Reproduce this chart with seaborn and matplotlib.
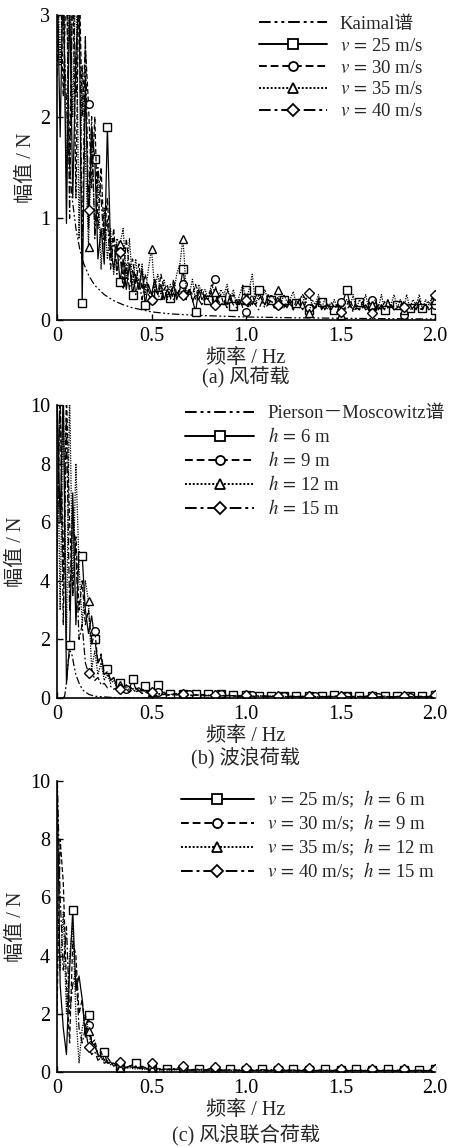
import numpy as np
import matplotlib
matplotlib.use("Agg")
import matplotlib.pyplot as plt
import seaborn as sns

# ---------------- data ----------------
x_ticks = [0, 0.5, 1.0, 1.5, 2.0]
x_tick_labels = ["0", "0.5", "1.0", "1.5", "2.0"]
y_ticks_a = [0, 1, 2, 3]
y_ticks_bc = [0, 2, 4, 6, 8, 10]

# (a) wind load
freq_a = np.arange(121) / 60
wind_v25 = [3.5, 1.8, 3.5, 0.95, 3.2, 1.2, 2.6, 3.2, 0.17, 2.4,
            0.9, 1.9, 1.58, 0.6, 0.9, 0.55, 1.9, 0.7, 0.5, 0.75,
            0.37, 0.6, 0.3, 0.55, 0.25, 0.45, 0.3, 0.5, 0.15, 0.35,
            0.25, 0.4, 0.25, 0.35, 0.2, 0.3, 0.22, 0.35, 0.2, 0.3,
            0.5, 0.25, 0.3, 0.2, 0.08, 0.3, 0.2, 0.25, 0.2, 0.28,
            0.15, 0.25, 0.2, 0.22, 0.15, 0.25, 0.14, 0.2, 0.15, 0.25,
            0.3, 0.2, 0.15, 0.22, 0.3, 0.2, 0.15, 0.25, 0.2, 0.15,
            0.22, 0.18, 0.2, 0.12, 0.2, 0.15, 0.17, 0.12, 0.18, 0.1,
            0.1, 0.15, 0.12, 0.2, 0.18, 0.1, 0.15, 0.12, 0.1, 0.15,
            0.12, 0.2, 0.3, 0.15, 0.1, 0.18, 0.18, 0.12, 0.15, 0.1,
            0.14, 0.18, 0.1, 0.15, 0.1, 0.2, 0.12, 0.15, 0.15, 0.1,
            0.18, 0.12, 0.12, 0.15, 0.1, 0.2, 0.12, 0.15, 0.1, 0.12,
            0.1]
wind_v30 = [3.5, 3.5, 2.2, 3.5, 1.5, 3.5, 1.2, 3.5, 2.0, 2.7,
            2.12, 1.3, 2.0, 0.9, 1.5, 0.8, 1.2, 0.6, 0.9, 0.5,
            0.67, 0.4, 0.8, 0.5, 0.6, 0.35, 0.55, 0.3, 0.45, 0.3,
            0.2, 0.4, 0.25, 0.45, 0.3, 0.35, 0.2, 0.4, 0.25, 0.3,
            0.35, 0.2, 0.3, 0.25, 0.35, 0.2, 0.3, 0.2, 0.25, 0.3,
            0.4, 0.2, 0.25, 0.15, 0.3, 0.2, 0.25, 0.15, 0.2, 0.12,
            0.08, 0.2, 0.25, 0.15, 0.2, 0.25, 0.15, 0.2, 0.18, 0.12,
            0.15, 0.2, 0.12, 0.18, 0.15, 0.1, 0.2, 0.15, 0.1, 0.18,
            0.12, 0.15, 0.1, 0.2, 0.12, 0.15, 0.1, 0.18, 0.12, 0.15,
            0.18, 0.1, 0.15, 0.2, 0.12, 0.15, 0.1, 0.18, 0.12, 0.15,
            0.2, 0.12, 0.15, 0.1, 0.18, 0.12, 0.15, 0.1, 0.12, 0.15,
            0.05, 0.12, 0.15, 0.1, 0.18, 0.12, 0.1, 0.15, 0.12, 0.18,
            0.15]
wind_v35 = [3.5, 2.5, 3.5, 1.4, 3.5, 2.0, 3.5, 0.8, 2.5, 1.6,
            0.72, 1.8, 0.9, 1.4, 0.5, 1.1, 0.6, 0.9, 0.45, 0.8,
            0.75, 0.9, 0.4, 0.8, 0.35, 0.6, 0.3, 0.55, 0.25, 0.5,
            0.7, 0.3, 0.45, 0.25, 0.4, 0.2, 0.35, 0.25, 0.45, 0.55,
            0.8, 0.3, 0.25, 0.4, 0.2, 0.35, 0.25, 0.3, 0.2, 0.35,
            0.28, 0.2, 0.3, 0.25, 0.35, 0.2, 0.3, 0.15, 0.25, 0.35,
            0.2, 0.3, 0.45, 0.15, 0.25, 0.2, 0.3, 0.18, 0.25, 0.2,
            0.3, 0.15, 0.25, 0.18, 0.2, 0.28, 0.15, 0.2, 0.25, 0.1,
            0.07, 0.2, 0.15, 0.25, 0.12, 0.2, 0.15, 0.1, 0.2, 0.12,
            0.05, 0.15, 0.2, 0.12, 0.25, 0.1, 0.2, 0.15, 0.25, 0.1,
            0.15, 0.2, 0.12, 0.25, 0.1, 0.2, 0.15, 0.25, 0.12, 0.2,
            0.1, 0.25, 0.12, 0.2, 0.15, 0.25, 0.1, 0.2, 0.15, 0.22,
            0.2]
wind_v40 = [2.4, 3.5, 2.9, 3.5, 1.0, 3.5, 2.2, 3.5, 0.6, 2.8,
            1.08, 2.0, 0.8, 1.5, 1.2, 0.7, 1.0, 0.5, 0.8, 0.45,
            0.67, 0.3, 0.55, 0.3, 0.5, 0.25, 0.4, 0.2, 0.35, 0.25,
            0.2, 0.3, 0.25, 0.2, 0.3, 0.22, 0.3, 0.2, 0.25, 0.3,
            0.25, 0.2, 0.3, 0.18, 0.25, 0.2, 0.15, 0.22, 0.2, 0.15,
            0.15, 0.2, 0.15, 0.18, 0.12, 0.2, 0.15, 0.12, 0.18, 0.15,
            0.2, 0.12, 0.18, 0.15, 0.1, 0.18, 0.12, 0.15, 0.2, 0.12,
            0.15, 0.1, 0.15, 0.12, 0.18, 0.1, 0.15, 0.2, 0.25, 0.2,
            0.27, 0.15, 0.12, 0.18, 0.1, 0.15, 0.12, 0.1, 0.15, 0.1,
            0.08, 0.12, 0.1, 0.15, 0.08, 0.12, 0.1, 0.15, 0.1, 0.12,
            0.07, 0.12, 0.1, 0.15, 0.1, 0.12, 0.15, 0.1, 0.12, 0.15,
            0.13, 0.15, 0.1, 0.12, 0.15, 0.1, 0.12, 0.15, 0.18, 0.2,
            0.25]
kaimal_freq = [0.02, 0.04, 0.06, 0.08, 0.1, 0.12, 0.14, 0.17, 0.2, 0.25, 0.3,
               0.35, 0.4, 0.5, 0.6, 0.75, 1.0, 1.25, 1.5, 1.75, 2.0]
kaimal_amp = [3.5, 2.6, 1.7, 1.2, 0.9, 0.7, 0.56, 0.43, 0.34, 0.25, 0.19,
              0.15, 0.12, 0.08, 0.06, 0.045, 0.03, 0.022, 0.017, 0.013, 0.01]

# (b) wave load
freq_b = np.concatenate([np.arange(0, 36) / 60, np.arange(18, 61) / 30])
wave_h6 = [10.5, 6.0, 10.5, 0.5, 1.8, 7.0, 2.5, 5.0, 4.85, 3.0,
           2.2, 2.8, 2.0, 1.2, 1.4, 0.9, 1.0, 0.6, 0.7, 0.4,
           0.5, 0.35, 0.45, 0.3, 0.65, 0.3, 0.35, 0.25, 0.4, 0.25,
           0.3, 0.2, 0.45, 0.15, 0.2, 0.12,
           0.15, 0.1, 0.15, 0.12, 0.15, 0.1, 0.12, 0.1, 0.15, 0.08,
           0.1, 0.08, 0.1, 0.06, 0.08, 0.06, 0.08, 0.06, 0.07, 0.05,
           0.08, 0.05, 0.07, 0.05, 0.06, 0.05, 0.1, 0.06, 0.07, 0.05,
           0.08, 0.05, 0.06, 0.05, 0.07, 0.04, 0.06, 0.05, 0.06, 0.04,
           0.06, 0.05, 0.1]
wave_h9 = [5.0, 10.5, 4.0, 10.5, 6.0, 3.5, 5.5, 3.0, 4.0, 2.5,
           3.0, 1.8, 2.3, 1.2, 1.5, 0.8, 0.9, 0.6, 0.7, 0.4,
           0.5, 0.35, 0.3, 0.4, 0.3, 0.35, 0.2, 0.3, 0.25, 0.2,
           0.25, 0.15, 0.2, 0.12, 0.18, 0.1,
           0.12, 0.15, 0.25, 0.15, 0.1, 0.12, 0.08, 0.1, 0.12, 0.07,
           0.08, 0.06, 0.08, 0.1, 0.06, 0.07, 0.05, 0.06, 0.08, 0.05,
           0.06, 0.04, 0.05, 0.06, 0.04, 0.05, 0.06, 0.05, 0.07, 0.04,
           0.05, 0.06, 0.04, 0.05, 0.06, 0.04, 0.05, 0.06, 0.04, 0.05,
           0.06, 0.04, 0.05]
wave_h12 = [10.5, 3.0, 10.5, 2.0, 10.5, 3.5, 8.0, 4.5, 2.5, 4.0,
            3.3, 1.0, 1.6, 0.8, 1.2, 0.6, 0.8, 0.5, 0.6, 0.35,
            0.45, 0.3, 0.4, 0.25, 0.35, 0.2, 0.3, 0.2, 0.25, 0.15,
            0.2, 0.15, 0.18, 0.12, 0.15, 0.1,
            0.12, 0.15, 0.12, 0.1, 0.12, 0.08, 0.1, 0.12, 0.08, 0.1,
            0.07, 0.08, 0.1, 0.06, 0.08, 0.05, 0.07, 0.08, 0.05, 0.06,
            0.04, 0.06, 0.05, 0.04, 0.06, 0.04, 0.05, 0.08, 0.05, 0.04,
            0.06, 0.04, 0.05, 0.04, 0.06, 0.04, 0.05, 0.06, 0.04, 0.05,
            0.04, 0.05, 0.06]
wave_h15 = [5.0, 10.5, 2.5, 9.5, 3.0, 6.5, 4.9, 2.0, 2.5, 1.2,
            0.85, 1.0, 0.6, 0.7, 0.45, 0.5, 0.35, 0.4, 0.3, 0.35,
            0.3, 0.25, 0.3, 0.2, 0.3, 0.2, 0.25, 0.15, 0.2, 0.15,
            0.2, 0.12, 0.15, 0.1, 0.12, 0.1,
            0.1, 0.12, 0.15, 0.08, 0.1, 0.07, 0.08, 0.1, 0.07, 0.08,
            0.06, 0.07, 0.1, 0.06, 0.05, 0.06, 0.05, 0.08, 0.05, 0.04,
            0.05, 0.04, 0.08, 0.04, 0.05, 0.04, 0.05, 0.08, 0.04, 0.05,
            0.04, 0.05, 0.08, 0.04, 0.05, 0.04, 0.05, 0.08, 0.04, 0.05,
            0.04, 0.05, 0.1]
pm_freq = [0.03, 0.04, 0.05, 0.06, 0.07, 0.08, 0.09, 0.1, 0.12, 0.14,
           0.17, 0.2, 0.3, 0.5, 1.0, 2.0]
pm_amp = [0.0, 0.05, 0.5, 1.3, 1.6, 1.45, 1.1, 0.8, 0.45, 0.25,
          0.12, 0.06, 0.015, 0.003, 0.0, 0.0]

# (c) combined wind + wave load
freq_c = np.concatenate([np.arange(0, 35) / 60, np.arange(14, 49) / 24])
comb_1 = [10.5, 3.0, 1.5, 0.6, 3.5, 5.55, 2.8, 3.3, 2.5, 1.2,
          1.95, 1.0, 0.9, 0.6, 0.5, 0.7, 0.3, 0.35, 0.2, 0.25,
          0.15, 0.2, 0.15, 0.2, 0.25, 0.3, 0.15, 0.12, 0.15, 0.1,
          0.12, 0.1, 0.12, 0.08, 0.1,
          0.12, 0.08, 0.1, 0.06, 0.1, 0.06, 0.08, 0.05, 0.1, 0.05,
          0.07, 0.05, 0.1, 0.05, 0.07, 0.05, 0.1, 0.05, 0.06, 0.05,
          0.09, 0.04, 0.06, 0.04, 0.09, 0.04, 0.06, 0.04, 0.09, 0.04,
          0.06, 0.04, 0.08, 0.04, 0.1]
comb_2 = [2.0, 8.0, 6.5, 3.0, 1.0, 4.5, 4.0, 2.0, 2.5, 1.3,
          1.6, 1.0, 1.1, 0.6, 0.7, 0.4, 0.5, 0.35, 0.3, 0.25,
          0.2, 0.25, 0.15, 0.2, 0.15, 0.2, 0.12, 0.15, 0.1, 0.12,
          0.15, 0.1, 0.12, 0.08, 0.1,
          0.08, 0.1, 0.12, 0.06, 0.08, 0.05, 0.1, 0.05, 0.07, 0.05,
          0.08, 0.04, 0.06, 0.04, 0.08, 0.04, 0.05, 0.04, 0.07, 0.04,
          0.05, 0.04, 0.06, 0.04, 0.05, 0.04, 0.06, 0.04, 0.05, 0.04,
          0.06, 0.04, 0.05, 0.04, 0.06]
comb_3 = [6.0, 3.5, 5.5, 2.0, 4.0, 5.0, 2.0, 0.3, 1.5, 2.0,
          1.4, 0.8, 1.0, 0.5, 0.6, 0.35, 0.4, 0.25, 0.3, 0.2,
          0.15, 0.2, 0.12, 0.15, 0.12, 0.1, 0.12, 0.08, 0.1, 0.08,
          0.1, 0.08, 0.07, 0.06, 0.08,
          0.06, 0.07, 0.1, 0.05, 0.06, 0.04, 0.08, 0.04, 0.05, 0.04,
          0.07, 0.04, 0.05, 0.03, 0.06, 0.04, 0.05, 0.03, 0.06, 0.04,
          0.05, 0.03, 0.05, 0.04, 0.05, 0.03, 0.05, 0.04, 0.05, 0.03,
          0.05, 0.04, 0.05, 0.03, 0.05]
comb_4 = [10.5, 6.0, 3.5, 5.0, 2.0, 3.0, 3.5, 1.5, 1.0, 1.5,
          0.85, 0.6, 0.7, 0.4, 0.5, 0.3, 0.35, 0.25, 0.3, 0.25,
          0.35, 0.2, 0.15, 0.2, 0.15, 0.2, 0.15, 0.2, 0.15, 0.2,
          0.3, 0.15, 0.1, 0.12, 0.1,
          0.1, 0.12, 0.2, 0.08, 0.1, 0.08, 0.18, 0.06, 0.08, 0.06,
          0.15, 0.06, 0.08, 0.06, 0.15, 0.06, 0.07, 0.05, 0.15, 0.05,
          0.07, 0.05, 0.12, 0.05, 0.06, 0.05, 0.12, 0.05, 0.06, 0.05,
          0.12, 0.05, 0.06, 0.05, 0.12]

labels_a = ["Kaimal谱", r"$v\,=\,$25 m/s", r"$v\,=\,$30 m/s", r"$v\,=\,$35 m/s",
            r"$v\,=\,$40 m/s"]
labels_b = ["Pierson－Moscowitz谱", r"$h\,=\,$6 m", r"$h\,=\,$9 m", r"$h\,=\,$12 m",
            r"$h\,=\,$15 m"]
labels_c = [r"$v\,=\,$25 m/s;  $h\,=\,$6 m", r"$v\,=\,$30 m/s;  $h\,=\,$9 m",
            r"$v\,=\,$35 m/s;  $h\,=\,$12 m", r"$v\,=\,$40 m/s;  $h\,=\,$15 m"]
captions = ["(a) 风荷载", "(b) 波浪荷载", "(c) 风浪联合荷载"]
xlabel = "频率 / Hz"
ylabel = "幅值 / N"

# ---------------- style ----------------
sns.set_theme(style="white")
plt.rcParams["font.family"] = ["Liberation Serif", "Noto Sans CJK SC", "DejaVu Sans"]
plt.rcParams["mathtext.fontset"] = "stix"
plt.rcParams["axes.unicode_minus"] = False
FS = 14.5
FS_LEG = 13.5

LS_SPEC = (0, (6, 2, 1.5, 2, 1.5, 2))
LS = ["-", (0, (4, 2)), (0, (1, 1)), (0, (6, 2, 1.5, 2))]
MK = ["s", "o", "^", "D"]
MS = [5.5, 5.5, 6, 5]


def mark_idx(f, start, step):
    k = (np.asarray(f) - start) / step
    return [i for i in range(len(k)) if k[i] > -1e-6 and abs(k[i] - round(k[i])) < 1e-6]


def draw_series(ax, f, y, j, label, start, step):
    sns.lineplot(x=f, y=y, ax=ax, color="black", linewidth=0.9, linestyle=LS[j],
                 marker=MK[j], markersize=MS[j], markerfacecolor="white",
                 markeredgecolor="black", markeredgewidth=1.0,
                 markevery=mark_idx(f, start, step), label=label,
                 sort=False, estimator=None)


def style_axes(ax, ymax, yticks):
    ax.set_xlim(0, 2.0)
    ax.set_ylim(0, ymax)
    ax.set_xticks(x_ticks)
    ax.set_xticklabels(x_tick_labels)
    ax.set_yticks(yticks)
    ax.set_yticklabels([str(t) for t in yticks])
    for s in ["top", "right"]:
        ax.spines[s].set_visible(False)
    for s in ["left", "bottom"]:
        ax.spines[s].set_color("black")
        ax.spines[s].set_linewidth(1.2)
    ax.tick_params(direction="in", length=4, width=1, labelsize=FS, colors="black",
                   left=True, bottom=True, pad=5)
    ax.set_xlabel(xlabel, fontsize=FS, labelpad=2)
    ax.set_ylabel(ylabel, fontsize=FS, labelpad=3)


def legend(ax, anchor, spacing, hl):
    leg = ax.legend(loc="upper right", bbox_to_anchor=anchor, frameon=False,
                    fontsize=FS_LEG, handlelength=hl, handletextpad=0.7,
                    labelspacing=spacing, borderpad=0, borderaxespad=0, numpoints=1)
    for ln in leg.get_lines():
        ln.set_linewidth(1.4)
        ln.set_markersize(ln.get_markersize() + 1)
        ln.set_markeredgewidth(1.3)


fig = plt.figure(figsize=(4.5, 11.47), dpi=100)
L, W = 57 / 450, (435 - 57) / 450
H = 1147
ax_a = fig.add_axes([L, 1 - 320 / H, W, (320 - 15) / H])
ax_b = fig.add_axes([L, 1 - 698 / H, W, (698 - 405) / H])
ax_c = fig.add_axes([L, 1 - 1072 / H, W, (1072 - 781) / H])

# (a)
sns.lineplot(x=kaimal_freq, y=kaimal_amp, ax=ax_a, color="black", linewidth=0.9,
             linestyle=LS_SPEC, label=labels_a[0], sort=False, estimator=None)
for j, (y, st, sp) in enumerate([(wind_v25, 2 / 15, 1 / 15), (wind_v30, 1 / 6, 1 / 6),
                                  (wind_v35, 1 / 6, 1 / 6), (wind_v40, 1 / 6, 1 / 6)]):
    draw_series(ax_a, freq_a, y, j, labels_a[j + 1], st, sp)
style_axes(ax_a, 3, y_ticks_a)
legend(ax_a, (0.968, 0.997), 0.25, 3.6)

# (b)
sns.lineplot(x=pm_freq, y=pm_amp, ax=ax_b, color="black", linewidth=0.9,
             linestyle=LS_SPEC, label=labels_b[0], sort=False, estimator=None)
for j, (y, st, sp) in enumerate([(wave_h6, 1 / 15, 1 / 15), (wave_h9, 0.2, 1 / 6),
                                  (wave_h12, 1 / 6, 1 / 6), (wave_h15, 1 / 6, 1 / 6)]):
    draw_series(ax_b, freq_b, y, j, labels_b[j + 1], st, sp)
style_axes(ax_b, 10, y_ticks_bc)
legend(ax_b, (1.026, 1.0), 0.27, 3.7)

# (c)
for j, (y, st, sp) in enumerate([(comb_1, 1 / 12, 1 / 12), (comb_2, 1 / 6, 1 / 6),
                                  (comb_3, 1 / 6, 1 / 6), (comb_4, 1 / 6, 1 / 6)]):
    draw_series(ax_c, freq_c, y, j, labels_c[j], st, sp)
style_axes(ax_c, 10, y_ticks_bc)
legend(ax_c, (1.0, 0.973), 0.15, 3.9)

cx = (57 + 435) / 2 / 450
for cap, ypix in zip(captions, [378, 758, 1135]):
    fig.text(cx, 1 - ypix / H, cap, ha="center", va="center", fontsize=FS)

fig.savefig("out.png", dpi=100, facecolor="white")
